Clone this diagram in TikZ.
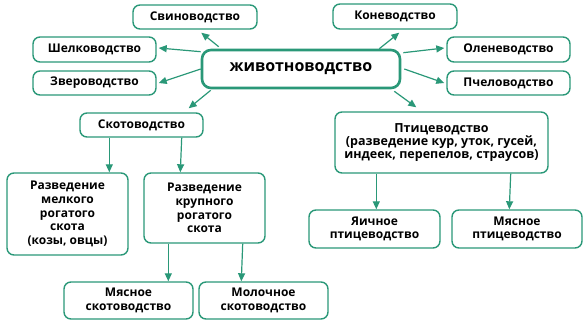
\documentclass[tikz,border=0pt]{standalone}
\usepackage{fontspec}
\setmainfont{Open Sans}
\usetikzlibrary{arrows.meta,calc}
\definecolor{grn}{RGB}{42,152,120}
\begin{document}
\begin{tikzpicture}[x=1pt,y=-1pt,
  box/.style={draw=grn,line width=1.4pt,rounded corners=7pt,fill=white,
    align=center,inner sep=0pt,font=\fontsize{12}{13.7}\selectfont\bfseries},
  mainbox/.style={box,line width=2.6pt,rounded corners=9pt,font=\fontsize{16}{20}\selectfont\bfseries},
  arr/.style={draw=grn,line width=1.2pt,-{Triangle[length=8pt,width=7pt]}}]
\useasboundingbox (0,0) rectangle (587,323);
\node[mainbox,minimum width=198pt,minimum height=38pt] (main) at (301,69) {животноводство};
\node[box,minimum width=124pt,minimum height=24pt] (svin) at (195,17) {Свиноводство};
\node[box,minimum width=123pt,minimum height=25pt] (shelk) at (94.5,49.5) {Шелководство};
\node[box,minimum width=123pt,minimum height=24pt] (zver) at (94.5,83) {Звероводство};
\node[box,minimum width=123pt,minimum height=24pt] (skot) at (141.5,125) {Скотоводство};
\node[box,minimum width=124pt,minimum height=25pt] (kon) at (395,16.5) {Коневодство};
\node[box,minimum width=123pt,minimum height=25pt] (olen) at (508.5,49.5) {Оленеводство};
\node[box,minimum width=123pt,minimum height=24pt] (pchel) at (508.5,83) {Пчеловодство};
\node[box,minimum width=213pt,minimum height=61pt,font=\fontsize{12.5}{12.6}\selectfont\bfseries] (ptic) at (441.5,142.5) {Птицеводство\\(разведение кур, уток, гусей,\\индеек, перепелов, страусов)};
\node[box,minimum width=121pt,minimum height=82pt] (melk) at (67.5,214) {Разведение\\мелкого\\рогатого\\скота\\(козы, овцы)};
\node[box,minimum width=121pt,minimum height=70pt] (krup) at (204.5,208) {Разведение\\крупного\\рогатого\\скота};
\node[box,minimum width=129pt,minimum height=37pt] (myasos) at (128.5,300.5) {Мясное\\скотоводство};
\node[box,minimum width=129pt,minimum height=37pt] (moloch) at (263.5,300.5) {Молочное\\скотоводство};
\node[box,minimum width=131pt,minimum height=38pt] (yaich) at (374.5,229) {Яичное\\птицеводство};
\node[box,minimum width=130pt,minimum height=38pt] (myasop) at (517,229) {Мясное\\птицеводство};
% radial arrows
\draw[arr] ($(main.north west)+(18,-2)$) -- ($(svin.south west)+(69,3)$);
\draw[arr] ($(main.north west)+(0,3)$) -- ($(shelk.east)+(2,-1.5)$);
\draw[arr] ($(main.west)+(0,0)$) -- ($(zver.east)+(2,0)$);
\draw[arr] ($(main.south west)+(10,1)$) -- ($(skot.north east)+(-15,-4)$);
\draw[arr] ($(main.north east)+(-22,0)$) -- ($(kon.south west)+(67,3)$);
\draw[arr] ($(main.north east)+(2,4)$) -- ($(olen.west)+(-2,-1.5)$);
\draw[arr] ($(main.east)+(3,0)$) -- ($(pchel.west)+(-2,0)$);
\draw[arr] ($(main.south east)+(-7,2)$) -- ($(ptic.north west)+(82,-4)$);
% vertical arrows
\draw[arr] ($(skot.south west)+(30,0)$) -- ($(melk.north west)+(103,0)$);
\draw[arr] ($(skot.south east)+(-22,0)$) -- ($(krup.north west)+(37,0)$);
\draw[arr] ($(krup.south west)+(25,0)$) -- ($(myasos.north west)+(105,0)$);
\draw[arr] ($(krup.south east)+(-23,0)$) -- ($(moloch.north west)+(43,0)$);
\draw[arr] ($(ptic.south west)+(42,0)$) -- ($(yaich.north west)+(68,0)$);
\draw[arr] ($(ptic.south east)+(-38,0)$) -- ($(myasop.north west)+(58,0)$);
\end{tikzpicture}
\end{document}
